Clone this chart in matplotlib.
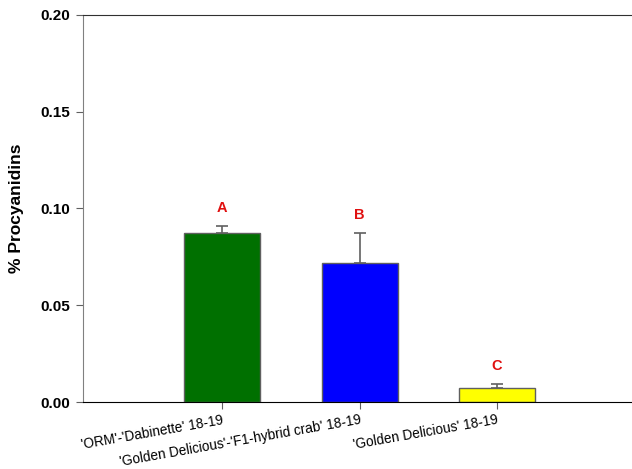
import matplotlib
matplotlib.use('Agg')
from matplotlib import pyplot as plt

plt.rcParams['font.family'] = ['Liberation Sans', 'DejaVu Sans']

categories = ["'ORM'-'Dabinette' 18-19",
              "'Golden Delicious'-'F1-hybrid crab' 18-19",
              "'Golden Delicious' 18-19"]
means = [0.0873, 0.0718, 0.0072]
errors = [0.0037, 0.0155, 0.0021]
letters = ['A', 'B', 'C']
colors = ['#007000', '#0000ff', '#ffff00']


def main():
	fig = plt.figure(figsize=(6.32, 4.69), dpi=100)
	ax = fig.add_axes([83 / 632, 1 - 402 / 469, 1 - 83 / 632, (402 - 15) / 469])

	x = [1, 2, 3]
	ax.bar(x, means, width=0.553, color=colors, edgecolor='#606060', linewidth=1.0, zorder=2)
	ax.errorbar(x, means, yerr=[[0, 0, 0], errors], fmt='none', ecolor='#606060',
				elinewidth=1.2, capsize=4, capthick=1.2, zorder=1)

	for xi, m, e, letter in zip(x, means, errors, letters):
		ax.annotate(letter, (xi, m + e), xytext=(0, 18), textcoords='offset pixels',
					ha='center', va='center', color='#e01010', fontsize=10.5, fontweight='bold')

	ax.set_xlim(-0.01, 3.98)
	ax.set_ylim(0, 0.20)
	ax.set_yticks([0.00, 0.05, 0.10, 0.15, 0.20])
	ax.set_yticklabels(['0.00', '0.05', '0.10', '0.15', '0.20'], fontsize=11, fontweight='bold')
	ax.set_xticks(x)
	ax.set_xticklabels(categories, rotation=10, ha='right', va='top',
					   rotation_mode='anchor', fontsize=9.8)
	ax.tick_params(axis='y', direction='out', length=5, color='#606060', pad=4)
	ax.tick_params(axis='x', direction='out', length=5, color='#606060', pad=3)

	ax.set_ylabel('% Procyanidins', fontsize=12.5, fontweight='bold', labelpad=12)

	ax.spines['left'].set_color('#808080')
	ax.spines['bottom'].set_color('black')
	ax.spines['top'].set_color('#303030')
	ax.spines['right'].set_visible(False)

	fig.savefig('out.png', dpi=100)


if __name__ == '__main__':
	main()
